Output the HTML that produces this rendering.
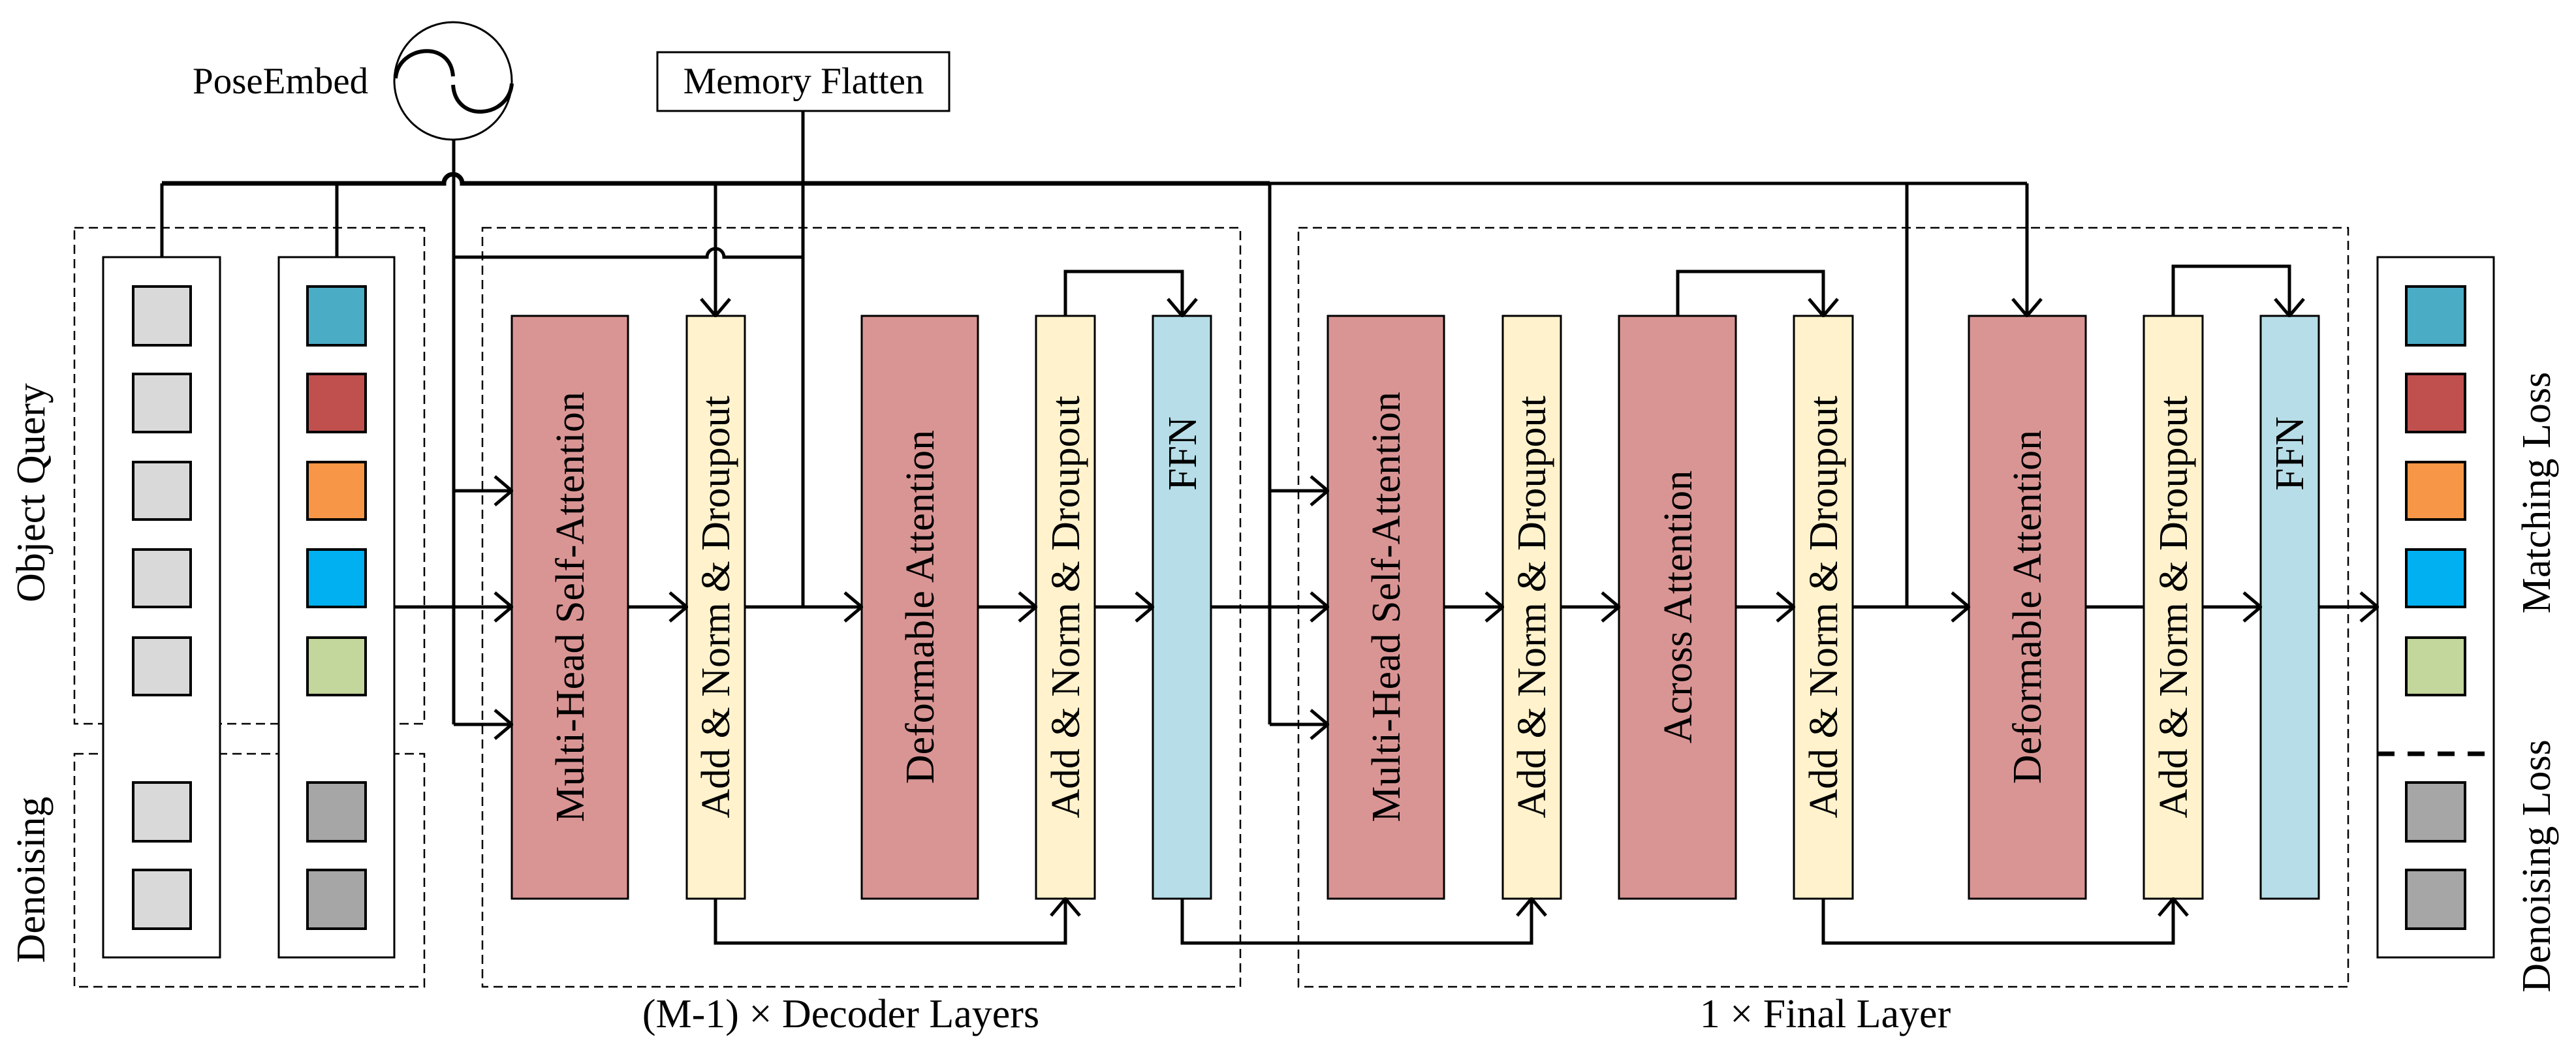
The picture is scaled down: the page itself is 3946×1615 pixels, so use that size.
<!DOCTYPE html>
<html><head><meta charset="utf-8"><style>
html,body{margin:0;padding:0;background:#fff;}
svg{display:block;}
text{font-family:"Liberation Serif",serif;fill:#000;}
</style></head><body>
<svg width="3946" height="1615" viewBox="0 0 3946 1615" xmlns="http://www.w3.org/2000/svg">
<defs>
<marker id="ar" viewBox="0 0 30 50" refX="28" refY="25" markerWidth="30" markerHeight="50" markerUnits="userSpaceOnUse" orient="auto">
<path d="M2,3 L28,25 L2,47" fill="none" stroke="#000" stroke-width="5"/>
</marker>
</defs>

<!-- dashed boxes -->
<g fill="none" stroke="#000" stroke-width="2.5" stroke-dasharray="14 8">
<rect x="114" y="349" width="536" height="760"/>
<rect x="114" y="1155" width="536" height="357"/>
<rect x="739" y="349" width="1161" height="1163"/>
<rect x="1989" y="349" width="1608" height="1163"/>
</g>

<!-- input columns -->
<g fill="#fff" stroke="#000" stroke-width="3">
<rect x="158" y="394" width="179" height="1073"/>
<rect x="427" y="394" width="177" height="1073"/>
<rect x="3642" y="394" width="178" height="1073"/>
</g>
<g stroke="#000" stroke-width="4">
<rect x="204" y="439" width="88" height="90" fill="#D9D9D9"/>
<rect x="204" y="573" width="88" height="89" fill="#D9D9D9"/>
<rect x="204" y="708" width="88" height="88" fill="#D9D9D9"/>
<rect x="204" y="842" width="88" height="88" fill="#D9D9D9"/>
<rect x="204" y="977" width="88" height="88" fill="#D9D9D9"/>
<rect x="204" y="1199" width="88" height="90" fill="#D9D9D9"/>
<rect x="204" y="1333" width="88" height="90" fill="#D9D9D9"/>

<rect x="471" y="439" width="89" height="90" fill="#4BACC6"/>
<rect x="471" y="573" width="89" height="89" fill="#C0504D"/>
<rect x="471" y="708" width="89" height="88" fill="#F79646"/>
<rect x="471" y="842" width="89" height="88" fill="#00B0F0"/>
<rect x="471" y="977" width="89" height="88" fill="#C3D69B"/>
<rect x="471" y="1199" width="89" height="90" fill="#A6A6A6"/>
<rect x="471" y="1333" width="89" height="90" fill="#A6A6A6"/>

<rect x="3686" y="439" width="90" height="90" fill="#4BACC6"/>
<rect x="3686" y="573" width="90" height="89" fill="#C0504D"/>
<rect x="3686" y="708" width="90" height="88" fill="#F79646"/>
<rect x="3686" y="842" width="90" height="88" fill="#00B0F0"/>
<rect x="3686" y="977" width="90" height="88" fill="#C3D69B"/>
<rect x="3686" y="1199" width="90" height="90" fill="#A6A6A6"/>
<rect x="3686" y="1333" width="90" height="90" fill="#A6A6A6"/>
</g>
<line x1="3642" y1="1155" x2="3820" y2="1155" stroke="#000" stroke-width="7" stroke-dasharray="26 20"/>

<!-- blocks -->
<g stroke="#000" stroke-width="3">
<rect x="784" y="484" width="178" height="893" fill="#D99594"/>
<rect x="1052" y="484" width="89" height="893" fill="#FFF2CC"/>
<rect x="1320" y="484" width="178" height="893" fill="#D99594"/>
<rect x="1587" y="484" width="90" height="893" fill="#FFF2CC"/>
<rect x="1766" y="484" width="89" height="893" fill="#B7DEE8"/>
<rect x="2034" y="484" width="178" height="893" fill="#D99594"/>
<rect x="2302" y="484" width="89" height="893" fill="#FFF2CC"/>
<rect x="2480" y="484" width="179" height="893" fill="#D99594"/>
<rect x="2748" y="484" width="90" height="893" fill="#FFF2CC"/>
<rect x="3016" y="484" width="179" height="893" fill="#D99594"/>
<rect x="3284" y="484" width="90" height="893" fill="#FFF2CC"/>
<rect x="3463" y="484" width="89" height="893" fill="#B7DEE8"/>
</g>

<!-- block labels -->
<g font-size="62" text-anchor="middle">
<text transform="translate(873,930) rotate(-90)" dy="21">Multi-Head Self-Attention</text>
<text transform="translate(1096,930) rotate(-90)" dy="21">Add &amp; Norm &amp; Droupout</text>
<text transform="translate(1409,930) rotate(-90)" dy="21">Deformable Attention</text>
<text transform="translate(1632,930) rotate(-90)" dy="21">Add &amp; Norm &amp; Droupout</text>
<text transform="translate(1811,695) rotate(-90)" dy="21">FFN</text>
<text transform="translate(2123,930) rotate(-90)" dy="21">Multi-Head Self-Attention</text>
<text transform="translate(2346,930) rotate(-90)" dy="21">Add &amp; Norm &amp; Droupout</text>
<text transform="translate(2570,930) rotate(-90)" dy="21">Across Attention</text>
<text transform="translate(2793,930) rotate(-90)" dy="21">Add &amp; Norm &amp; Droupout</text>
<text transform="translate(3105,930) rotate(-90)" dy="21">Deformable Attention</text>
<text transform="translate(3329,930) rotate(-90)" dy="21">Add &amp; Norm &amp; Droupout</text>
<text transform="translate(3507,695) rotate(-90)" dy="21">FFN</text>

<text transform="translate(47,755) rotate(-90)" dy="21">Object Query</text>
<text transform="translate(47,1348) rotate(-90)" dy="21">Denoising</text>
<text transform="translate(3885,755) rotate(-90)" dy="21">Matching Loss</text>
<text transform="translate(3885,1327) rotate(-90)" dy="21">Denoising Loss</text>
</g>

<text x="1288" y="1574" font-size="62" text-anchor="middle">(M-1) × Decoder Layers</text>
<text x="2796" y="1574" font-size="62" text-anchor="middle">1 × Final Layer</text>
<text x="295" y="143" font-size="57">PoseEmbed</text>

<!-- memory flatten -->
<rect x="1007" y="80" width="447" height="90" fill="#fff" stroke="#000" stroke-width="3"/>
<text x="1231" y="143" font-size="57" text-anchor="middle">Memory Flatten</text>

<!-- pose circle -->
<circle cx="694" cy="124" r="90" fill="none" stroke="#000" stroke-width="3"/>
<path d="M606,120 C610,70 690,60 694,117" fill="none" stroke="#000" stroke-width="6"/>
<path d="M694,130 C698,190 780,180 784,128" fill="none" stroke="#000" stroke-width="6"/>

<!-- connectors -->
<g fill="none" stroke="#000" stroke-width="5">
<!-- bus -->
<path d="M248,281 L680,281 A14,14 0 0 1 708,281 L1945,281" stroke-width="7"/>
<path d="M1945,281 L3105,281" stroke-width="5"/>
<line x1="248" y1="281" x2="248" y2="394"/>
<line x1="516" y1="281" x2="516" y2="394"/>
<!-- pose vertical -->
<line x1="695" y1="214" x2="695" y2="1110"/>
<line x1="695" y1="752" x2="784" y2="752" marker-end="url(#ar)"/>
<line x1="695" y1="1110" x2="784" y2="1110" marker-end="url(#ar)"/>
<path d="M695,394 L1083,394 A13,13 0 0 1 1109,394 L1230,394"/>
<!-- memory vertical -->
<line x1="1230" y1="170" x2="1230" y2="930"/>
<line x1="1096" y1="281" x2="1096" y2="484" marker-end="url(#ar)"/>
<!-- main flow -->
<line x1="604" y1="930" x2="784" y2="930" marker-end="url(#ar)"/>
<line x1="962" y1="930" x2="1052" y2="930" marker-end="url(#ar)"/>
<line x1="1141" y1="930" x2="1320" y2="930" marker-end="url(#ar)"/>
<line x1="1498" y1="930" x2="1587" y2="930" marker-end="url(#ar)"/>
<line x1="1677" y1="930" x2="1766" y2="930" marker-end="url(#ar)"/>
<line x1="1855" y1="930" x2="2034" y2="930" marker-end="url(#ar)"/>
<line x1="2212" y1="930" x2="2302" y2="930" marker-end="url(#ar)"/>
<line x1="2391" y1="930" x2="2480" y2="930" marker-end="url(#ar)"/>
<line x1="2659" y1="930" x2="2748" y2="930" marker-end="url(#ar)"/>
<line x1="2838" y1="930" x2="3016" y2="930" marker-end="url(#ar)"/>
<line x1="3195" y1="930" x2="3284" y2="930"/>
<line x1="3374" y1="930" x2="3463" y2="930" marker-end="url(#ar)"/>
<line x1="3552" y1="930" x2="3642" y2="930" marker-end="url(#ar)"/>
<!-- skips -->
<path d="M1632,484 L1632,416 L1811,416 L1811,484" marker-end="url(#ar)"/>
<path d="M2570,484 L2570,416 L2793,416 L2793,484" marker-end="url(#ar)"/>
<path d="M3329,484 L3329,408 L3507,408 L3507,484" marker-end="url(#ar)"/>
<!-- second vertical feed -->
<line x1="1945" y1="281" x2="1945" y2="1110"/>
<line x1="1945" y1="752" x2="2034" y2="752" marker-end="url(#ar)"/>
<line x1="1945" y1="1110" x2="2034" y2="1110" marker-end="url(#ar)"/>
<line x1="2921" y1="281" x2="2921" y2="930"/>
<line x1="3105" y1="281" x2="3105" y2="484" marker-end="url(#ar)"/>
<!-- bottom connectors -->
<path d="M1096,1377 L1096,1445 L1632,1445 L1632,1377" marker-end="url(#ar)"/>
<path d="M1811,1377 L1811,1445 L2346,1445 L2346,1377" marker-end="url(#ar)"/>
<path d="M2793,1377 L2793,1445 L3329,1445 L3329,1377" marker-end="url(#ar)"/>
</g>
</svg>
</body></html>
